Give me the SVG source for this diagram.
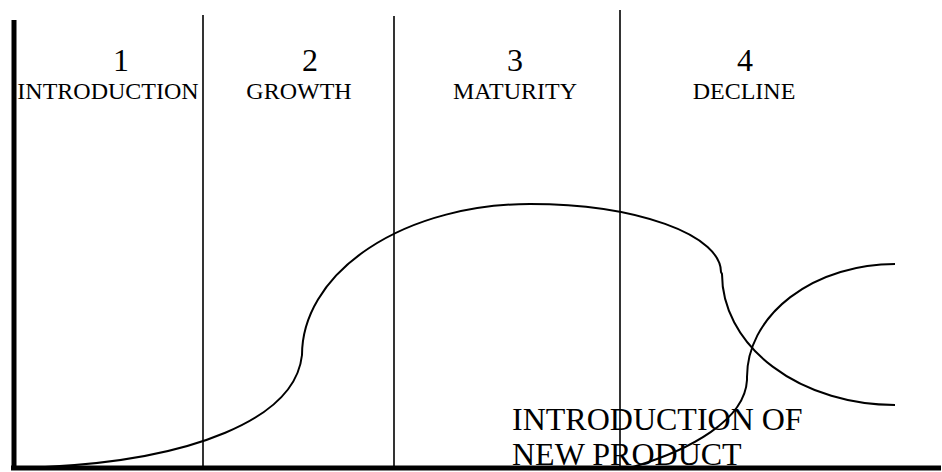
<svg xmlns="http://www.w3.org/2000/svg" width="942" height="472" viewBox="0 0 942 472">
<style>
.t{font-family:"Liberation Serif","Times New Roman",serif;fill:#000}
.d{font-size:32px;text-anchor:middle}
.l{font-size:24px;text-anchor:middle}
.b{font-size:32px}
.div{stroke:#000;stroke-width:1.6;fill:none}
.ax{stroke:#000;stroke-width:5;fill:none}
.cv{stroke:#000;stroke-width:2;fill:none}
</style>
<rect width="942" height="472" fill="#fff"/>
<g id="stage1">
<text class="t d" x="121" y="71">1</text>
<text class="t l" x="108" y="99">INTRODUCTION</text>
</g>
<g id="stage2">
<text class="t d" x="310" y="71">2</text>
<text class="t l" x="299" y="99">GROWTH</text>
</g>
<g id="stage3">
<text class="t d" x="515" y="71">3</text>
<text class="t l" x="515" y="99">MATURITY</text>
</g>
<g id="stage4">
<text class="t d" x="745" y="71">4</text>
<text class="t l" x="744" y="99">DECLINE</text>
</g>
<g id="newproduct">
<text class="t b" x="512" y="430">INTRODUCTION OF</text>
<text class="t b" x="512" y="465">NEW PRODUCT</text>
</g>
<g id="connectors">
<line class="div" x1="203" y1="15" x2="203" y2="467"/>
<line class="div" x1="394" y1="16" x2="394" y2="467"/>
<line class="div" x1="620" y1="10" x2="620" y2="467"/>
<path class="cv" d="M45,467 C190,460 295,420 302,355 A228,151 0 0 1 530,204 A191,68 0 0 1 721,272 L722,274 A173,131 0 0 0 895,405"/>
<path class="cv" d="M633,467 C690,450 745,420 747,380 L747,377 A148,113 0 0 1 895,264"/>
<line class="ax" x1="14" y1="20" x2="14" y2="470"/>
<line class="ax" x1="11" y1="468" x2="941" y2="468"/>
</g>
</svg>
